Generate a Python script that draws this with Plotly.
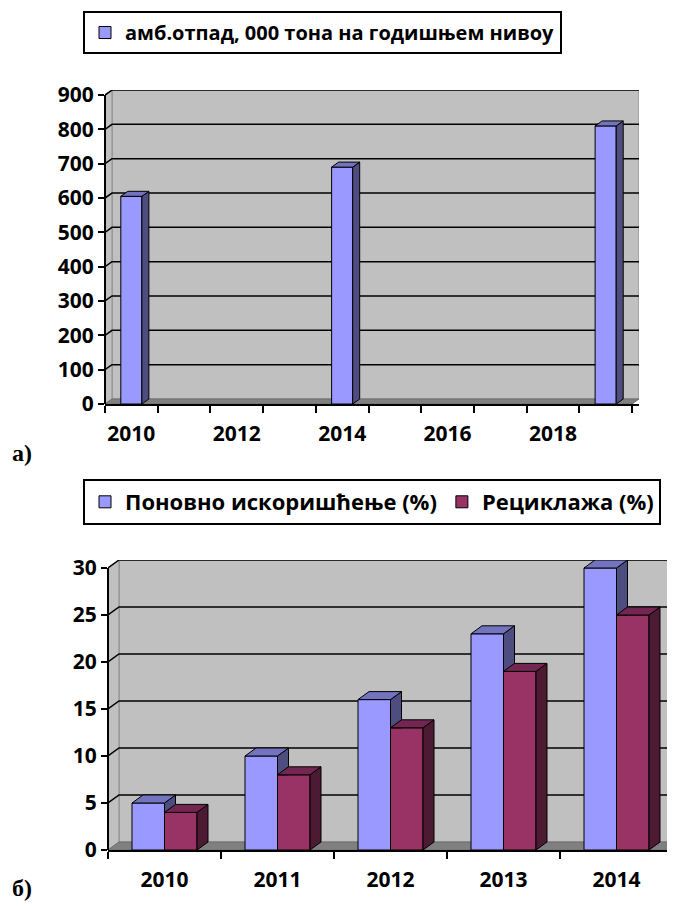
import plotly.graph_objects as go

# ---------------- data ----------------
# chart а)
years_a = ["2010", "2011", "2012", "2013", "2014", "2015", "2016", "2017", "2018", "2019"]
waste_a = [605, None, None, None, 690, None, None, None, None, 810]
ylabels_a = [0, 100, 200, 300, 400, 500, 600, 700, 800, 900]
name_a = "амб.отпад, 000 тона на годишњем нивоу"

# chart б)
years_b = ["2010", "2011", "2012", "2013", "2014"]
reuse_b = [5, 10, 16, 23, 30]
recycle_b = [4, 8, 13, 19, 25]
ylabels_b = [0, 5, 10, 15, 20, 25, 30]
name_reuse = "Поновно искоришћење (%)"
name_recycle = "Рециклажа (%)"

# ---------------- styling ----------------
W, H = 675, 907
OFF = 8  # page body margin seen in the screenshot
FONT = "Open Sans"
BLUE, BLUE_SIDE, BLUE_TOP = "#9999FF", "#4D4D80", "#7373BF"
RED, RED_SIDE, RED_TOP = "#993366", "#4D1A33", "#732650"
WALL, WALL_EDGE, FLOOR = "#C0C0C0", "#8C8C8C", "#808080"


def fx(px):
    return (px - OFF) / W


def fy(py):
    return 1 - (py - OFF) / H


# geometry in screenshot pixels
A_left, A_bottom, A_catpx, A_ypx = 105, 404, 52.7, 0.3433
B_left, B_bottom, B_catpx, B_ypx = 108, 850, 113.0, 9.4
A_dxp, A_dyp = 7, 5
B_dxp, B_dyp = 11, 8

fig = go.Figure()


def path(pts):
    return "M" + " L".join(f"{px},{py}" for px, py in pts) + " Z"


def box_shapes(xr, yr, xmin, xmax, ymax, dx, dy, gridvals):
    s = [
        dict(type="path", xref=xr, yref=yr, layer="below",
             path=path([(xmin + dx, dy), (xmax + dx, dy), (xmax + dx, ymax + dy), (xmin + dx, ymax + dy)]),
             fillcolor=WALL, line=dict(color=WALL_EDGE, width=1)),
        dict(type="path", xref=xr, yref=yr, layer="below",
             path=path([(xmin, 0), (xmin + dx, dy), (xmin + dx, ymax + dy), (xmin, ymax)]),
             fillcolor=WALL, line=dict(color=WALL_EDGE, width=1)),
        dict(type="path", xref=xr, yref=yr, layer="below",
             path=path([(xmin, 0), (xmax, 0), (xmax + dx, dy), (xmin + dx, dy)]),
             fillcolor=FLOOR, line=dict(color="#6E6E6E", width=1)),
    ]
    for v in gridvals:
        s.append(dict(type="path", xref=xr, yref=yr, layer="below",
                      path=f"M{xmin},{v} L{xmin + dx},{v + dy} L{xmax + dx},{v + dy}",
                      line=dict(color="black", width=1.5)))
    return s


def faces(xc, vals, w, dx, dy, clip=None):
    sx, sy, tx, ty = [], [], [], []
    for i, (x, v) in enumerate(zip(xc, vals)):
        if v is None:
            continue
        l, r = x - w / 2, x + w / 2
        base = clip[i] if clip is not None else 0
        if base > 0:
            sx += [r, r + dx, r + dx, r, r, None]
            sy += [base, base, v + dy, v, base, None]
        else:
            sx += [r, r + dx, r + dx, r, r, None]
            sy += [0, dy, v + dy, v, 0, None]
        tx += [l, r, r + dx, l + dx, l, None]
        ty += [v, v, v + dy, v + dy, v, None]
    return sx, sy, tx, ty


def add_faces(xc, vals, w, dx, dy, side_c, top_c, xa, ya, clip=None):
    sx, sy, tx, ty = faces(xc, vals, w, dx, dy, clip)
    for xs, ys, c in ((sx, sy, side_c), (tx, ty, top_c)):
        fig.add_trace(go.Scatter(x=xs, y=ys, mode="lines", fill="toself", fillcolor=c,
                                 line=dict(color="black", width=1), showlegend=False, hoverinfo="skip",
                                 xaxis=xa, yaxis=ya))


shapes = []

# ---------- chart a ----------
nA = len(years_a)
idxA = list(range(nA))
ymaxA = ylabels_a[-1]
dxA = A_dxp / A_catpx
dyA = A_dyp / A_ypx
xminA, xmaxA = -0.5, nA - 0.5
shapes += box_shapes("x", "y", xminA, xmaxA, ymaxA, dxA, dyA, ylabels_a[1:])
wA = 0.4
fig.add_trace(go.Bar(x=idxA, y=waste_a, width=wA, name=name_a,
                     marker=dict(color=BLUE, line=dict(color="black", width=1)),
                     xaxis="x", yaxis="y", legend="legend"))

# ---------- chart b ----------
nB = len(years_b)
idxB = list(range(nB))
ymaxB = ylabels_b[-1]
dxB = B_dxp / B_catpx
dyB = B_dyp / B_ypx
xminB, xmaxB = -0.5, nB - 0.5
shapes += box_shapes("x2", "y2", xminB, xmaxB, ymaxB, dxB, dyB, ylabels_b[1:])
wB = 0.2876
xb_blue = [i - wB / 2 for i in idxB]
xb_red = [i + wB / 2 for i in idxB]
fig.add_trace(go.Bar(x=xb_blue, y=reuse_b, width=wB, name=name_reuse,
                     marker=dict(color=BLUE, line=dict(color="black", width=1)),
                     xaxis="x2", yaxis="y2", legend="legend2"))
fig.add_trace(go.Bar(x=xb_red, y=recycle_b, width=wB, name=name_recycle,
                     marker=dict(color=RED, line=dict(color="black", width=1)),
                     xaxis="x2", yaxis="y2", legend="legend2"))

# 3D faces (scatter layer sits above bar layer)
add_faces(idxA, waste_a, wA, dxA, dyA, BLUE_SIDE, BLUE_TOP, "x", "y")
add_faces(xb_blue, reuse_b, wB, dxB, dyB, BLUE_SIDE, BLUE_TOP, "x2", "y2", clip=recycle_b)
add_faces(xb_red, recycle_b, wB, dxB, dyB, RED_SIDE, RED_TOP, "x2", "y2")

# domains
A_right = A_left + (nA + dxA) * A_catpx
A_top = A_bottom - (ymaxA + dyA) * A_ypx
dA = [fx(A_left), fx(A_right)]
dAy = [fy(A_bottom), fy(A_top)]
B_top = B_bottom - (ymaxB + dyB) * B_ypx
dB = [fx(B_left), 1.0]
dBy = [fy(B_bottom), fy(B_top)]
xmaxB_range = xminB + (W + OFF - B_left) / B_catpx

# y axis lines stopping at the top tick
shapes.append(dict(type="line", xref="paper", yref="y", x0=dA[0], x1=dA[0], y0=0, y1=ymaxA,
                   line=dict(color="black", width=2)))
shapes.append(dict(type="line", xref="paper", yref="y2", x0=dB[0], x1=dB[0], y0=0, y1=ymaxB,
                   line=dict(color="black", width=2)))

tickfont = dict(family=FONT, size=21, color="black", weight="bold")
common_y = dict(showgrid=False, zeroline=False, showline=False, ticks="outside", ticklen=6,
                tickwidth=1.5, tickcolor="black", tickfont=tickfont, ticklabelstandoff=0,
                automargin=False, fixedrange=True)
common_x = dict(showgrid=False, zeroline=False, showline=True, linecolor="black", linewidth=2,
                ticks="", tickfont=tickfont, ticklabelstandoff=10, automargin=False, fixedrange=True)

fig.update_layout(
    width=W, height=H, margin=dict(l=0, r=0, t=0, b=0, autoexpand=False),
    paper_bgcolor="white", plot_bgcolor="white",
    barmode="overlay", showlegend=True,
    font=dict(family=FONT, color="black", weight="bold"),
    xaxis=dict(common_x, domain=dA, range=[xminA, xmaxA + dxA], anchor="y",
               tickmode="array", tickvals=idxA[::2], ticktext=years_a[::2],
               minor=dict(tickmode="array", tickvals=[i - 0.5 for i in idxA] + [nA - 0.5],
                          ticks="outside", ticklen=7, tickwidth=1.5, tickcolor="black")),
    yaxis=dict(common_y, domain=dAy, range=[0, ymaxA + dyA], anchor="x",
               tickmode="array", tickvals=ylabels_a),
    xaxis2=dict(common_x, domain=dB, range=[xminB, xmaxB_range], anchor="y2",
                tickmode="array", tickvals=idxB, ticktext=years_b,
                minor=dict(tickmode="array", tickvals=[i - 0.5 for i in idxB] + [nB - 0.5],
                           ticks="outside", ticklen=7, tickwidth=1.5, tickcolor="black")),
    yaxis2=dict(common_y, domain=dBy, range=[0, ymaxB + dyB], anchor="x2",
                tickmode="array", tickvals=ylabels_b),
    legend=dict(x=fx(83), y=fy(11), xanchor="left", yanchor="top", bgcolor="white",
                bordercolor="black", borderwidth=2, font=dict(family=FONT, size=20, weight="bold")),
    legend2=dict(x=fx(83), y=fy(479), xanchor="left", yanchor="top", orientation="h",
                 bgcolor="white", bordercolor="black", borderwidth=2,
                 font=dict(family=FONT, size=22, weight="bold")),
    shapes=shapes,
    annotations=[
        dict(text="а)", xref="paper", yref="paper", x=fx(10), y=fy(453), xanchor="left", yanchor="middle",
             showarrow=False, font=dict(family="Liberation Serif", size=24, weight="bold", color="black")),
        dict(text="б)", xref="paper", yref="paper", x=fx(10), y=fy(888), xanchor="left", yanchor="middle",
             showarrow=False, font=dict(family="Liberation Serif", size=24, weight="bold", color="black")),
    ],
)

fig.write_html("out.html")
